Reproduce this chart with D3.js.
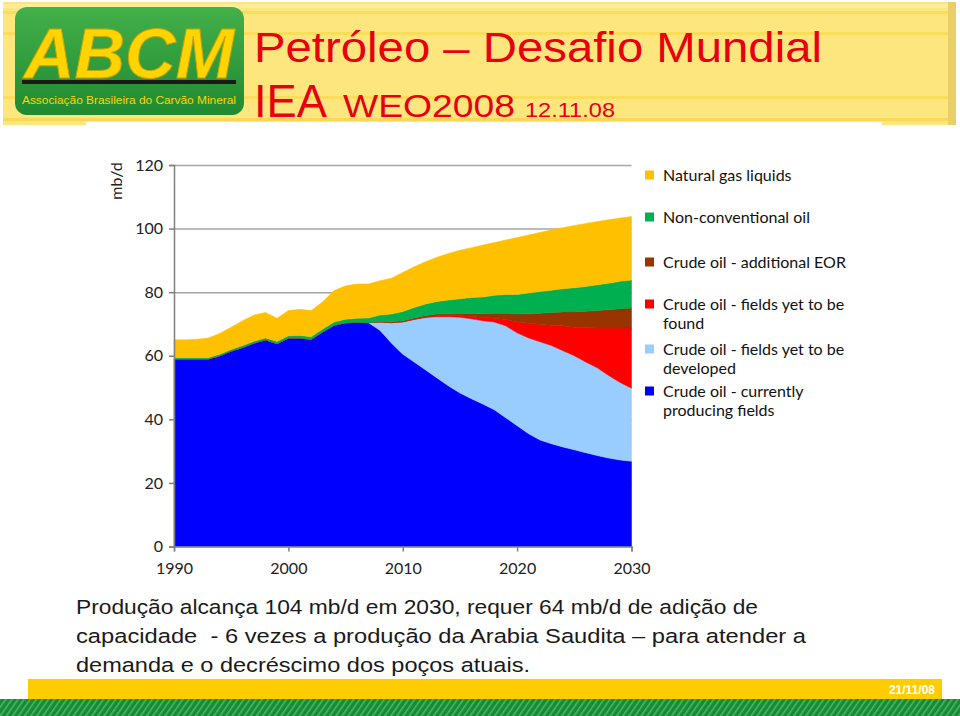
<!DOCTYPE html>
<html><head><meta charset="utf-8">
<script src="https://cdn.jsdelivr.net/npm/d3@7"></script>
<style>
html,body{margin:0;padding:0;background:#fff;}
svg{display:block;}
</style></head>
<body>
<svg id="c" width="960" height="716"></svg>
<script>
// ---------------- DATA ----------------
const years = d3.range(1990, 2031);
const currentlyProducing = [59.0,59.0,59.0,59.0,60.0,61.5,62.6,64.0,65.0,63.8,65.6,65.6,65.2,67.5,69.6,70.4,70.5,70.4,68.0,64.0,60.5,58.0,55.5,53.0,50.5,48.3,46.5,44.8,43.0,40.5,38.0,35.5,33.5,32.3,31.3,30.4,29.5,28.6,27.8,27.2,26.8];
const yetToBeDeveloped = [0,0,0,0,0,0,0,0,0,0,0,0,0,0,0,0,0,0,2.6,6.4,10.1,13.4,16.5,19.3,21.8,23.8,25.1,26.2,27.6,28.9,29.2,30.1,30.9,30.9,30.3,29.6,28.5,27.6,26.0,24.4,23.0];
const yetToBeFound = [0,0,0,0,0,0,0,0,0,0,0,0,0,0,0,0,0,0,0,0,0.1,0.1,0.2,0.3,0.3,0.5,0.8,1.0,1.2,2.0,3.4,4.6,5.5,6.4,7.8,9.0,10.8,12.5,14.9,17.1,18.9];
const additionalEOR = [0,0,0,0,0,0,0,0,0,0,0,0,0,0,0,0,0,0,0.2,0.3,0.3,0.4,0.5,0.5,0.6,0.7,0.9,1.2,1.6,2.0,2.5,3.0,3.5,4.0,4.4,4.8,5.2,5.5,5.8,6.1,6.3];
const nonConventional = [0.4,0.4,0.4,0.4,0.5,0.5,0.6,0.6,0.6,0.7,0.7,0.8,0.8,0.9,1.0,1.1,1.3,1.5,2.0,2.4,2.9,3.3,3.6,4.0,4.3,4.6,5.0,5.3,5.6,5.9,6.2,6.5,6.8,7.0,7.3,7.6,7.8,8.1,8.3,8.6,8.8];
const naturalGasLiquids = [5.6,5.6,5.8,6.2,6.5,7.0,7.8,8.2,8.0,7.3,7.9,8.2,8.2,8.6,9.9,10.5,10.8,10.7,10.8,11.3,12.3,12.8,13.3,13.9,14.7,15.3,15.7,16.3,16.6,17.1,17.9,18.3,18.6,19.0,19.2,19.6,19.8,19.9,20.0,19.9,20.0];
const yTicks = [0,20,40,60,80,100,120];
const xTicks = [1990,2000,2010,2020,2030];
const seriesKeys = ["producing","developed","found","eor","nonconv","ngl"];
const seriesColors = ["#0000FF","#99CCFF","#FF0000","#993300","#00B050","#FFC000"];
const legendItems = [
  {key:"ngl", lines:["Natural gas liquids"]},
  {key:"nonconv", lines:["Non-conventional oil"]},
  {key:"eor", lines:["Crude oil - additional EOR"]},
  {key:"found", lines:["Crude oil - fields yet to be","found"]},
  {key:"developed", lines:["Crude oil - fields yet to be","developed"]},
  {key:"producing", lines:["Crude oil - currently","producing fields"]}
];
const bodyLines = [
  "Produção alcança 104 mb/d em 2030, requer 64 mb/d de adição de",
  "capacidade  - 6 vezes a produção da Arabia Saudita – para atender a",
  "demanda e o decréscimo dos poços atuais."
];

// ---------------- DRAW ----------------
const svg = d3.select("#c");
const defs = svg.append("defs");

const lg = defs.append("linearGradient").attr("id","logoG").attr("x1",0).attr("y1",0).attr("x2",0).attr("y2",1);
lg.append("stop").attr("offset","0%").attr("stop-color","#43B04A");
lg.append("stop").attr("offset","100%").attr("stop-color","#1F8A30");
const pat = defs.append("pattern").attr("id","stripes").attr("width",5).attr("height",5)
  .attr("patternUnits","userSpaceOnUse").attr("patternTransform","rotate(35)");
pat.append("rect").attr("width",5).attr("height",5).attr("fill","#17893A");
pat.append("rect").attr("width",1.6).attr("height",5).attr("fill","#4DB55C");

// Header background
svg.append("rect").attr("x",3).attr("y",2).attr("width",953).attr("height",123).attr("fill","#FDE67E");
[[4,4,"#FFF0A8"],[11,3,"#F9D94E"],[32,3,"#F9D94E"],[96,3,"#F9D94E"],[118,3,"#F6D24A"]].forEach(s=>{
  svg.append("rect").attr("x",3).attr("y",s[0]).attr("width",953).attr("height",s[1]).attr("fill",s[2]).attr("opacity",0.7);
});
svg.append("rect").attr("x",948).attr("y",2).attr("width",8).attr("height",123).attr("fill","#E9CF66");

// Logo
svg.append("rect").attr("x",15).attr("y",7).attr("width",229).attr("height",108).attr("rx",12).attr("fill","url(#logoG)");
svg.append("text").attr("x",24).attr("y",78).attr("font-family","Liberation Sans, Arial, sans-serif")
  .attr("font-weight","bold").attr("font-style","italic").attr("font-size",70)
  .attr("textLength",210).attr("lengthAdjust","spacingAndGlyphs")
  .attr("fill","#FFD400").attr("stroke","#C9A300").attr("stroke-width",1).text("ABCM");
svg.append("rect").attr("x",22).attr("y",80).attr("width",214).attr("height",4).attr("fill","#1A1A1A");
svg.append("text").attr("x",22).attr("y",104).attr("font-family","Liberation Sans, Arial, sans-serif")
  .attr("font-size",11.5).attr("textLength",214).attr("lengthAdjust","spacingAndGlyphs")
  .attr("fill","#FFD400").text("Associação Brasileira do Carvão Mineral");

// Title
svg.append("text").attr("x",254).attr("y",62).attr("font-family","Liberation Sans, Arial, sans-serif")
  .attr("font-size",43).attr("fill","#E8000D").attr("textLength",568).attr("lengthAdjust","spacingAndGlyphs")
  .text("Petróleo – Desafio Mundial");
const t2 = svg.append("text").attr("y",117).attr("font-family","Liberation Sans, Arial, sans-serif").attr("fill","#E8000D");
t2.append("tspan").attr("x",254).attr("font-size",46).attr("textLength",73).attr("lengthAdjust","spacingAndGlyphs").text("IEA");
t2.append("tspan").attr("x",343).attr("font-size",32).attr("textLength",172).attr("lengthAdjust","spacingAndGlyphs").text("WEO2008");
t2.append("tspan").attr("x",525).attr("font-size",21).attr("textLength",90).attr("lengthAdjust","spacingAndGlyphs").text("12.11.08");

// Chart white panel
svg.append("rect").attr("x",86).attr("y",122).attr("width",796).attr("height",470).attr("fill","#fff");

// Scales
const x = d3.scaleLinear().domain([1990,2030]).range([174,631.5]);
const y = d3.scaleLinear().domain([0,120]).range([546.5,165]);
const color = d3.scaleOrdinal().domain(seriesKeys).range(seriesColors);

const table = years.map((yr,i)=>({
  year: yr,
  producing: currentlyProducing[i],
  developed: yetToBeDeveloped[i],
  found: yetToBeFound[i],
  eor: additionalEOR[i],
  nonconv: nonConventional[i],
  ngl: naturalGasLiquids[i]
}));
const stacked = d3.stack().keys(seriesKeys)(table);

// gridlines
const grid = svg.append("g").attr("transform",`translate(${x(1990)},0)`)
  .call(d3.axisLeft(y).tickValues(yTicks.filter(v=>v>0)).tickSize(-(x(2030)-x(1990))).tickFormat(""));
grid.select(".domain").remove();
grid.selectAll("line").attr("stroke","#A6A6A6").attr("stroke-width",1.5);

// areas
const area = d3.area().x(d=>x(d.data.year)).y0(d=>y(d[0])).y1(d=>y(d[1]));
svg.append("g").selectAll("path").data(stacked).join("path")
  .attr("d",area).attr("fill",d=>color(d.key)).attr("stroke",d=>color(d.key)).attr("stroke-width",0.5);

// axes
const yAx = svg.append("g").attr("transform",`translate(${x(1990)},0)`)
  .call(d3.axisLeft(y).tickValues(yTicks).tickSize(5).tickPadding(6));
yAx.select(".domain").attr("stroke","#808080").attr("stroke-width",1.5);
yAx.selectAll("line").attr("stroke","#808080").attr("stroke-width",1.5);
yAx.selectAll("text").attr("font-family","Lato, sans-serif").attr("font-size",16).attr("fill","#222");

const xAx = svg.append("g").attr("transform",`translate(0,${y(0)})`)
  .call(d3.axisBottom(x).tickValues(xTicks).tickFormat(d3.format("d")).tickSize(5).tickPadding(11));
xAx.select(".domain").attr("stroke","#808080").attr("stroke-width",1.5);
xAx.selectAll("line").attr("stroke","#808080").attr("stroke-width",1.5);
xAx.selectAll("text").attr("font-family","Lato, sans-serif").attr("font-size",16).attr("fill","#222");

svg.append("text").attr("transform","translate(122,181) rotate(-90)").attr("text-anchor","middle")
  .attr("font-family","Lato, sans-serif").attr("font-size",16).attr("fill","#222").text("mb/d");

// legend
const legY = [175,217,262,304,349,391];
const leg = svg.append("g");
legendItems.forEach((it,i)=>{
  leg.append("rect").attr("x",645).attr("y",legY[i]-4.5).attr("width",9).attr("height",9).attr("fill",color(it.key));
  it.lines.forEach((ln,j)=>{
    leg.append("text").attr("x",663).attr("y",legY[i]+5.5+j*19.5)
      .attr("font-family","Lato, sans-serif").attr("font-size",16).attr("fill","#111").text(ln);
  });
});

// body text
const bl = [614,643,672], bw = [682,730,454];
bodyLines.forEach((ln,i)=>{
  svg.append("text").attr("x",76).attr("y",bl[i]).attr("font-family","Liberation Sans, Arial, sans-serif")
    .attr("font-size",20.5).attr("fill","#1A1A1A").attr("textLength",bw[i]).attr("lengthAdjust","spacingAndGlyphs")
    .style("white-space","pre").text(ln);
});

// footer
svg.append("rect").attr("x",28).attr("y",679).attr("width",914).attr("height",20).attr("fill","#FFCC00");
svg.append("rect").attr("x",0).attr("y",699).attr("width",960).attr("height",17).attr("fill","url(#stripes)");
svg.append("text").attr("x",935).attr("y",694).attr("text-anchor","end")
  .attr("font-family","Liberation Sans Narrow, Liberation Sans, Arial, sans-serif").attr("font-weight","bold")
  .attr("font-size",12).attr("fill","#fff").text("21/11/08");
</script>
</body></html>
